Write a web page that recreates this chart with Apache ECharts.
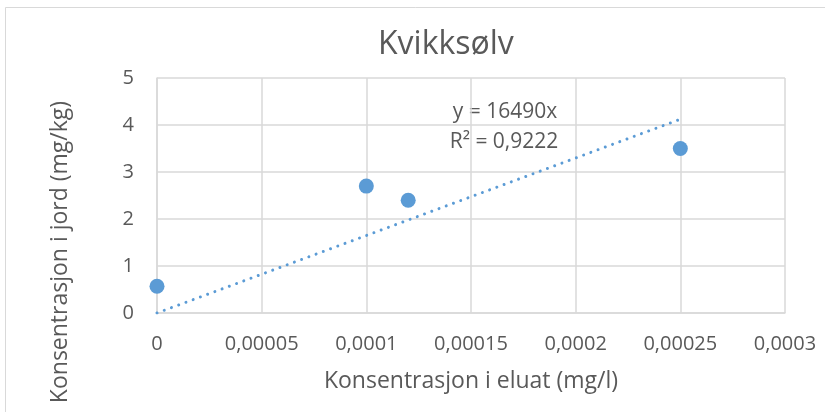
<!DOCTYPE html>
<html>
<head>
<meta charset="utf-8">
<script src="https://cdn.jsdelivr.net/npm/echarts@6/dist/echarts.min.js"></script>
<style>
  html, body { margin: 0; padding: 0; background: #fff; }
  #chart { width: 825px; height: 412px; }
</style>
</head>
<body>
<div id="chart"></div>
<script>
// Mercury: soil concentration vs. eluate concentration
const eluat = [0, 0.0001, 0.00012, 0.00025];   // mg/l
const jord = [0.57, 2.7, 2.4, 3.5];            // mg/kg
const trendSlope = 16490;                      // linear fit through origin
const trendLabel = ['y = 16490x', 'R² = 0,9222'];
const xMax = 0.0003, xStep = 0.00005;
const yMax = 5, yStep = 1;

const font = 'Open Sans, Noto Sans, sans-serif';
const textColor = '#595959';
const gridColor = '#D9D9D9';
const blue = '#5B9BD5';

const points = eluat.map((x, i) => [x, jord[i]]);
const trendEnd = eluat[eluat.length - 1];
const trend = [[0, 0], [trendEnd, trendSlope * trendEnd]];

const fmt = v => String(+(+v).toPrecision(6)).replace('.', ',');

const chart = echarts.init(document.getElementById('chart'), null, { renderer: 'canvas' });
chart.setOption({
  animation: false,
  backgroundColor: '#fff',
  title: {
    text: 'Kvikksølv',
    left: 373,
    top: 24,
    textStyle: { fontFamily: font, fontSize: 32, fontWeight: 'normal', color: textColor }
  },
  grid: { left: 157, right: 40, top: 78, bottom: 99 },
  xAxis: {
    type: 'value',
    min: 0, max: xMax, interval: xStep,
    name: 'Konsentrasjon i eluat (mg/l)',
    nameLocation: 'middle',
    nameGap: 57,
    nameTextStyle: { fontFamily: font, fontSize: 23, color: textColor },
    axisLine: { show: true, lineStyle: { color: gridColor, width: 1.5 } },
    axisTick: { show: false },
    splitLine: { show: true, lineStyle: { color: gridColor, width: 1.5 } },
    axisLabel: { formatter: fmt, margin: 21, fontFamily: font, fontSize: 20, color: textColor }
  },
  yAxis: {
    type: 'value',
    min: 0, max: yMax, interval: yStep,
    axisLine: { show: true, lineStyle: { color: gridColor, width: 1.5 } },
    axisTick: { show: false },
    splitLine: { show: true, lineStyle: { color: gridColor, width: 1.5 } },
    axisLabel: { margin: 23, fontFamily: font, fontSize: 20, color: textColor }
  },
  graphic: [
    {
      type: 'rect',
      shape: { x: 5.5, y: 7.5, width: 830, height: 420 },
      style: { fill: 'none', stroke: '#D9D9D9', lineWidth: 1 },
      silent: true, z: -1
    },
    {
      // y-axis title, rotated to read bottom-to-top
      type: 'text',
      x: 60, y: 252,
      rotation: Math.PI / 2,
      style: { text: 'Konsentrasjon i jord (mg/kg)', fontFamily: font, fontSize: 23,
               fill: textColor, align: 'center', verticalAlign: 'middle' }
    },
    {
      type: 'text',
      x: 505, y: 112,
      style: { text: trendLabel[0], fontFamily: font, fontSize: 21, fill: textColor,
               align: 'center', verticalAlign: 'middle' }
    },
    {
      type: 'text',
      x: 504, y: 142,
      style: { text: trendLabel[1], fontFamily: font, fontSize: 21, fill: textColor,
               align: 'center', verticalAlign: 'middle' }
    }
  ],
  series: [
    {
      type: 'line',
      data: trend,
      showSymbol: false,
      symbol: 'none',
      lineStyle: { color: blue, width: 3, type: [0.01, 7.7], cap: 'round' },
      z: 2
    },
    {
      type: 'scatter',
      data: points,
      symbolSize: 15,
      itemStyle: { color: blue, opacity: 1 },
      z: 3
    }
  ]
});
</script>
</body>
</html>
